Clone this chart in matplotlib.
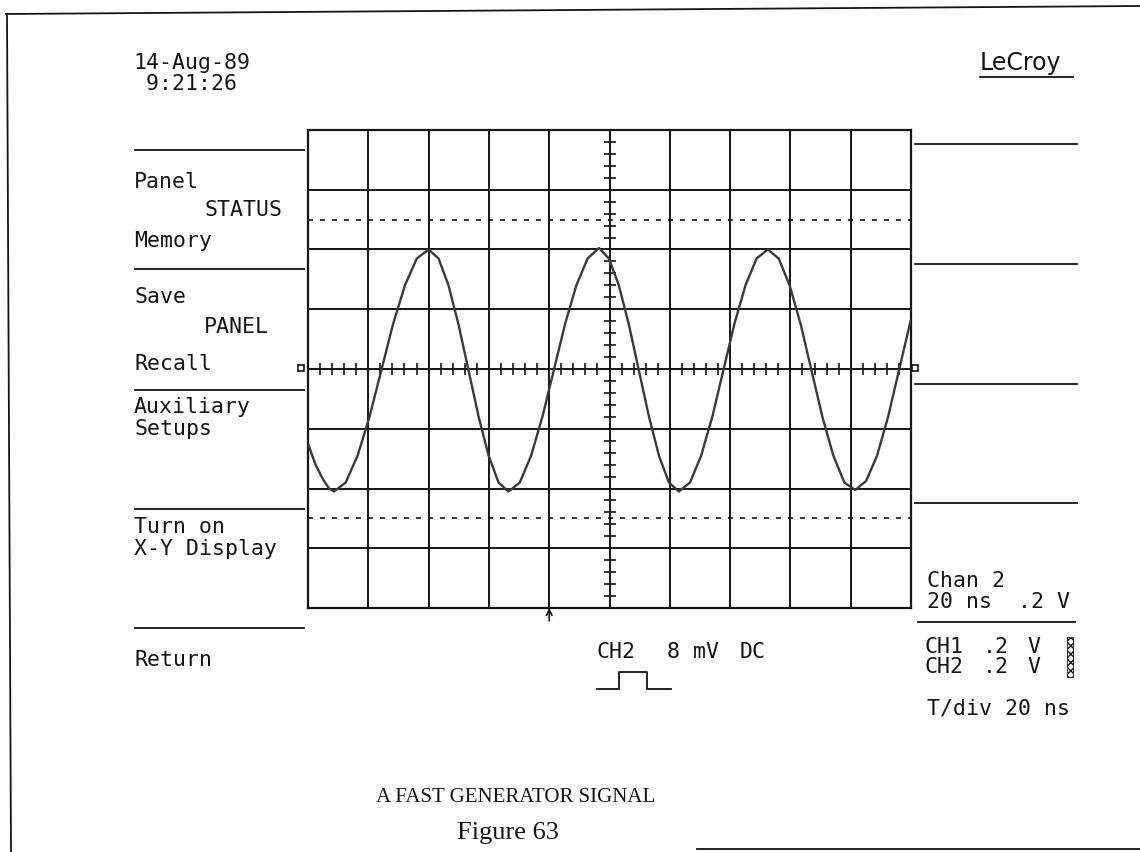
import matplotlib
matplotlib.use("Agg")
import matplotlib.pyplot as plt
from matplotlib.patches import Rectangle

# ---------------- data read from the screen ----------------
# trace of channel 2, time in ns (20 ns/div), amplitude in V (0.2 V/div)
time_ns = [0, 2.5, 5, 7, 8.6, 12.5, 16.45, 20.4, 24.3, 28.2, 32.15, 36.1, 40.0,
           43.3, 46.6, 49.9, 53.25, 56.6, 59.9, 63.2, 66.5,
           70.25, 74, 77.75, 81.5, 85.25, 89, 92.75, 96.5,
           99.8, 103.1, 106.4, 109.75, 113.1, 116.4, 119.7, 123,
           126.7, 130.4, 134.1, 137.75, 141.4, 145.1, 148.8, 152.5,
           156.1, 159.75, 163.4, 167, 170.6, 174.25, 177.9, 181.5,
           185.1, 188.75, 192.4, 196, 199.6, 200]
volts = [-0.25, -0.32, -0.37, -0.40, -0.41, -0.38, -0.29, -0.16, -0.005, 0.15, 0.28, 0.37, 0.40,
         0.37, 0.28, 0.15, -0.005, -0.16, -0.29, -0.38, -0.41,
         -0.38, -0.29, -0.16, -0.005, 0.15, 0.28, 0.37, 0.405,
         0.37, 0.28, 0.15, -0.005, -0.16, -0.29, -0.38, -0.41,
         -0.38, -0.29, -0.16, -0.005, 0.15, 0.28, 0.37, 0.40,
         0.37, 0.28, 0.15, -0.005, -0.16, -0.29, -0.38, -0.405,
         -0.375, -0.29, -0.16, -0.005, 0.15, 0.165]

time_span_ns = (0, 200)
volt_span = (-0.8, 0.8)
time_per_div = 20
volt_per_div = 0.2
cursor_levels = [0.5, -0.5]
trigger_ns = 80

date_lines = ["14-Aug-89", " 9:21:26"]
left_menu = [("Panel", 0), ("STATUS", 1), ("Memory", 0),
             ("Save", 0), ("PANEL", 1), ("Recall", 0),
             ("Auxiliary", 0), ("Setups", 0),
             ("Turn on", 0), ("X-Y Display", 0),
             ("Return", 0)]
caption = "A FAST GENERATOR SIGNAL"
figure_label = "Figure 63"

# ---------------- figure ----------------
W, H = 1140, 852
INK = "#141414"
MONO = "DejaVu Sans Mono"
FS = 15.5
fig = plt.figure(figsize=(W / 100, H / 100), dpi=100)
fig.patch.set_facecolor("white")

bg = fig.add_axes([0, 0, 1, 1])
bg.set_xlim(0, W)
bg.set_ylim(H, 0)
bg.axis("off")


def px_rect(l, t, r, b):
    return [l / W, 1 - b / H, (r - l) / W, (b - t) / H]


def mono(x, y, s):
    bg.text(x, y, s, family=MONO, fontsize=FS, color=INK, va="center")


# page border (scanned page)
bg.plot([6, 1140], [14, 6], color=INK, lw=1.3)
bg.plot([7, 11], [14, 852], color=INK, lw=1.3)
bg.plot([697, 1140], [849, 849], color=INK, lw=1.3)

# date / time
mono(133, 63, date_lines[0])
mono(133, 84, date_lines[1])

# LeCroy logo
bg.text(980, 63, "LeCroy", family="DejaVu Sans", fontsize=17, color=INK, va="center")
bg.plot([980, 1073], [77, 77], color=INK, lw=1.3)

# left menu
for y in [150, 269, 390, 509, 628]:
    bg.plot([135, 304], [y, y], color=INK, lw=1.3)
left_y = [182, 210, 241, 297, 327, 364, 407, 429, 527, 549, 660]
for (txt, indent), y in zip(left_menu, left_y):
    mono(134 + 70 * indent, y, txt)

# right menu
for y in [144, 264, 384, 503]:
    bg.plot([915, 1077], [y, y], color=INK, lw=1.3)
bg.plot([918, 1075], [622, 622], color=INK, lw=1.3)

mono(927, 581, "Chan 2")
mono(927, 602, "20 ns")
mono(1018, 602, ".2 V")
mono(924, 647, "CH1")
mono(924, 667, "CH2")
mono(983, 647, ".2")
mono(983, 667, ".2")
mono(1027, 647, "V")
mono(1027, 667, "V")
bg.add_patch(Rectangle((1067, 637), 6, 40, fill=False, hatch="xxxx", lw=0.6, ec=INK))
mono(927, 709, "T/div 20 ns")

# trigger info
mono(597, 652, "CH2")
mono(667, 652, "8 mV")
mono(740, 652, "DC")
bg.plot([597, 619, 619, 647, 647, 671], [689, 689, 672, 672, 689, 689], color=INK, lw=1.3)

# ground markers at both ends of the centre line
bg.plot([301, 915], [368, 368], ls="none", marker="s", ms=4, mfc="none", mec=INK, mew=1.2)

# caption
bg.text(516, 797, caption, family="Liberation Serif", fontsize=15, color=INK,
        ha="center", va="center")
bg.text(508, 833, figure_label, family="Liberation Serif", fontsize=19, color=INK,
        ha="center", va="center")

# ---------------- scope graticule ----------------
ax = fig.add_axes(px_rect(308, 130, 911, 608))
ax.set_facecolor("none")
ax.set_xlim(*time_span_ns)
ax.set_ylim(*volt_span)
ax.set_xticks([time_span_ns[0] + i * time_per_div for i in range(11)])
ax.set_yticks([volt_span[0] + i * volt_per_div for i in range(9)])
ax.grid(True, color=INK, lw=1.4)
ax.tick_params(length=0, labelbottom=False, labelleft=False)
for s in ax.spines.values():
    s.set_color(INK)
    s.set_linewidth(1.6)

# minor ticks on the centre axes (5 per division)
sub_t = [i * time_per_div / 5 for i in range(1, 50) if i % 5]
sub_v = [k * volt_per_div / 5 for k in range(-19, 20) if k % 5]
ax.plot(sub_t, [0] * len(sub_t), ls="none", marker="|", ms=9, mew=1.2, color=INK)
ax.plot([100] * len(sub_v), sub_v, ls="none", marker="_", ms=9, mew=1.2, color=INK)

# cursor lines
for lv in cursor_levels:
    ax.axhline(lv, color=INK, lw=1.2, ls=(0, (3, 4.2)))

# trace
ax.plot(time_ns, volts, color="#3a3a3a", lw=1.7, zorder=5)

# trigger position arrow
ax.annotate("", xy=(trigger_ns, 0), xycoords=("data", "axes fraction"),
            xytext=(trigger_ns, -0.027), textcoords=("data", "axes fraction"),
            arrowprops=dict(arrowstyle="->", color=INK, lw=1.2, shrinkA=0, shrinkB=0))

fig.savefig("out.png", dpi=100, facecolor="white")
